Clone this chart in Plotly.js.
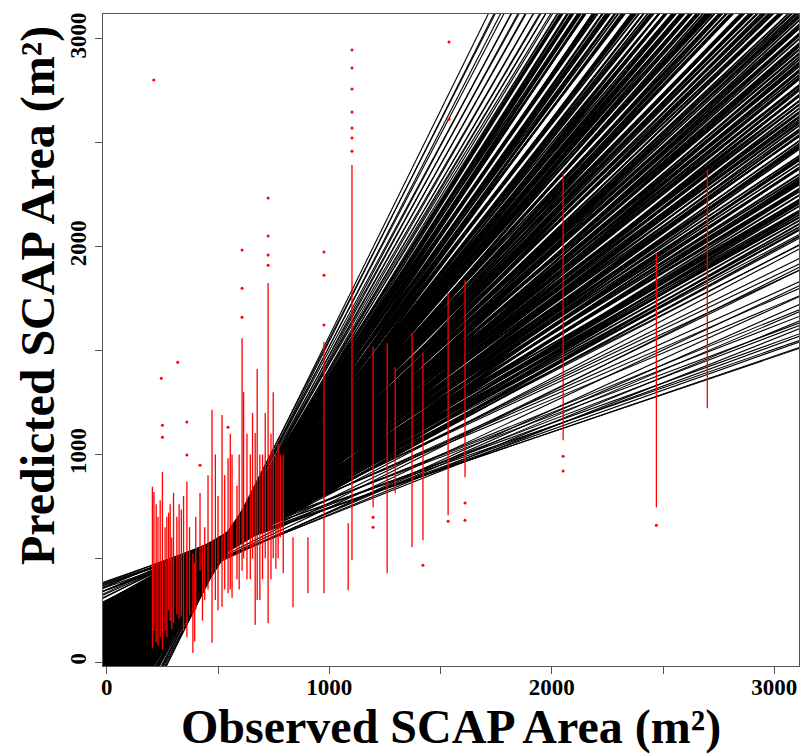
<!DOCTYPE html>
<html>
<head>
<meta charset="utf-8">
<script src="https://cdn.plot.ly/plotly-3.0.1.min.js"></script>
<style>html,body{margin:0;padding:0;background:#fff}#chart{width:805px;height:756px}</style>
</head>
<body>
<div id="chart"></div>
<script>
// Fitted regression lines (slope, intercept)
const regSlope = [
 2.17,2.13,2.10,2.08,2.04,2.01,1.98,1.96,1.93,1.91,1.89,1.86,1.84,1.82,1.80,1.79,1.77,1.75,1.74,1.72,1.71,1.70,
 1.693,1.685,1.676,1.670,1.661,1.652,1.646,1.637,1.630,1.621,1.615,1.606,1.597,1.591,1.583,1.574,1.568,1.559,1.552,1.545,1.536,1.530,1.521,1.513,1.507,1.498,1.490,1.484,1.476,1.467,1.461,1.453,1.445,1.438,1.431,1.422,1.416,1.408,1.400,1.393,1.386,1.377,1.371,1.363,1.356,1.348,1.341,1.333,1.327,1.319,1.312,1.305,
 1.298,1.294,1.289,1.285,1.280,1.276,1.271,1.267,1.262,1.258,1.253,1.249,1.244,1.240,1.235,1.231,1.226,1.222,1.217,1.213,1.208,1.204,1.199,1.195,1.190,1.186,1.181,1.177,1.172,1.168,1.163,1.159,1.154,1.150,1.145,1.141,1.136,1.132,1.127,1.123,1.118,1.114,1.109,1.105,1.100,1.096,1.091,1.087,1.082,1.078,1.073,1.069,1.064,1.060,1.055,1.051,1.046,1.042,1.037,1.033,1.028,1.024,1.019,1.015,1.010,1.006,1.001,0.997,0.992,0.988,0.983,
 0.978,0.974,0.971,0.967,0.963,0.959,0.956,0.952,0.948,0.945,0.941,0.937,0.934,0.930,0.926,0.922,0.919,0.915,0.911,0.908,0.904,0.900,0.896,0.893,0.889,0.885,0.882,0.878,0.874,0.871,0.867,0.863,0.859,0.856,0.852,0.848,0.845,0.841,0.837,0.834,0.830,0.826,0.822,0.819,0.815,0.811,0.808,0.804,0.800,0.796,0.793,0.789,0.785,0.782,0.778,0.774,0.771,0.767,0.763,0.759,0.756,0.752,0.748,0.745,0.741,0.737,0.734,0.730,0.726,0.722,0.719,0.715,0.711,0.708,0.704,0.700,0.696,0.693,0.689,0.685,0.682,0.678,0.674,0.671,0.667,0.663,0.659,0.656,0.652,0.648,0.645,0.641,0.637,0.634,0.630,0.626,0.622,0.619,0.615,0.611,0.608,0.604,0.600,0.596,0.593,0.589,0.585,0.582,
 0.574,0.566,0.559,0.552,0.543,0.537,0.528,0.521,0.513,0.505,0.498,0.490,0.482,0.473,0.466,0.458,0.449,0.441,0.433,0.425,0.416,0.409,0.401,0.392,0.386,0.379,0.372,0.366,0.362
];
const regIntercept = [
 -600,-585,-545,-560,-520,-530,-480,-500,-455,-470,-440,-445,-405,-420,-390,-410,-370,-385,-350,-365,-340,-355,
 -328,-371,-304,-335,-282,-340,-311,-354,-287,-316,-265,-322,-281,-247,-283,-315,-248,-285,-218,-271,-239,-288,-217,-248,-203,-259,-221,-268,-201,-230,-183,-240,-200,-161,-199,-231,-167,-205,-138,-186,-159,-201,-139,-166,-122,-179,-139,-187,-121,-153,-103,-159,
 -143,-89,-161,-111,-90,-142,-66,-114,-143,-88,-62,-121,-94,-139,-63,-101,-50,-117,-70,-58,-115,-32,-73,-95,-35,-78,-15,-94,-52,-36,-95,-24,-56,-7,-66,-27,-68,5,-49,-27,6,-65,1,-27,28,-43,-4,-30,29,-49,13,-4,32,-32,8,50,-7,38,-17,27,57,13,-15,56,28,77,14,53,3,64,45,
 71,20,93,43,19,76,94,38,71,23,98,63,114,55,88,44,107,84,44,124,73,100,138,65,116,96,62,135,93,131,63,127,153,88,122,87,149,114,169,106,143,95,169,134,109,161,187,126,154,106,181,145,179,122,174,202,138,167,121,202,156,192,142,214,173,192,142,211,167,233,181,156,224,173,208,236,159,222,205,180,251,197,237,178,224,253,197,238,179,258,219,271,213,238,204,266,287,227,253,208,282,246,274,227,295,248,274,239,
 254,297,249,291,317,230,300,265,320,240,337,235,331,250,349,262,366,270,349,282,370,348,385,349,379,362,391,376,384
];

// Red prediction columns: observed value, lowest and highest dense predicted value
const stripeObs  = [205,212,222,230,240,250,262,270,278,285,292,300,315,325,335,345,360,372,387,395,400,419,430,440,455,473,488,500,518,530,545,555,563,585,595,608,615,630,645,655,667,676,688,700,712,725,738,748,760,770,780,793,837,904,976,1085,1102,1197,1260,1296,1372,1421,1534,1610,2051,2470,2699];
const stripeLow  = [70,150,95,80,120,60,150,120,250,200,160,190,230,210,220,150,120,230,45,100,250,440,200,300,350,94,300,250,267,350,332,350,310,400,350,440,500,400,400,500,180,300,300,400,500,188,400,500,450,500,600,428,265,332,332,347,491,746,428,813,554,587,708,891,1069,746,1223];
const stripeHigh = [845,820,760,700,780,915,650,700,720,760,600,815,700,760,735,800,870,650,525,480,700,815,560,650,900,1215,1000,800,1190,900,982,1100,1000,850,1000,1560,1300,1100,1000,1200,1103,1411,1000,1000,1200,1825,1100,1300,1000,1050,1000,1000,602,602,1541,669,2393,1517,1536,1420,1584,1488,1777,1839,2354,1969,2369];

// Isolated red predictions
const pointObs  = [211,250,250,245,319,360,360,419,545,608,608,608,725,725,725,725,976,976,976,1102,1102,1102,1102,1102,1102,1102,1197,1197,1421,1534,1538,1538,1610,1610,2051,2051,2470];
const pointPred = [2802,1141,1083,1367,1444,1156,997,948,1131,1984,1800,1661,2234,2051,1960,1911,1974,1863,1623,2460,2523,2571,2648,2759,2860,2947,698,650,467,679,2985,2614,766,684,992,920,660];

const tickVals = [0,500,1000,1500,2000,2500,3000];
const tickText = ['0','','1000','','2000','','3000'];
const xRange = [-17, 3111];
const yRange = [-18, 3120];

// build traces: core of the fan drawn a little heavier than the sparse tails
const coreX = [], coreY = [], tailX = [], tailY = [];
const xa = xRange[0] - 30, xb = xRange[1] + 30;
for (let i = 0; i < regSlope.length; i++) {
  const core = regSlope[i] >= 0.58 && regSlope[i] <= 1.70;
  const X = core ? coreX : tailX, Y = core ? coreY : tailY;
  X.push(xa, xb, null);
  Y.push(regIntercept[i] + regSlope[i] * xa, regIntercept[i] + regSlope[i] * xb, null);
}
const sx = [], sy = [];
for (let i = 0; i < stripeObs.length; i++) {
  sx.push(stripeObs[i], stripeObs[i], null);
  sy.push(stripeLow[i], stripeHigh[i], null);
}
const traces = [
  {type:'scatter', mode:'lines', x:coreX, y:coreY, line:{color:'#000', width:1.8}, hoverinfo:'skip'},
  {type:'scatter', mode:'lines', x:tailX, y:tailY, line:{color:'#000', width:1.1}, hoverinfo:'skip'},
  {type:'scatter', mode:'lines', x:sx, y:sy, line:{color:'#ff0000', width:1.3}, hoverinfo:'skip'},
  {type:'scatter', mode:'markers', x:pointObs, y:pointPred, marker:{color:'#ff0000', size:3}, hoverinfo:'skip'}
];

const serif = 'Liberation Serif, Times New Roman, serif';
const tickFont = {family:serif, size:23, color:'#000', weight:'bold'};
const titleFont = {family:serif, size:48, color:'#000', weight:'bold'};
const axisCommon = {
  tickvals: tickVals, ticktext: tickText, ticks:'outside', ticklen:7, tickwidth:1, tickcolor:'#555',
  showline:true, linecolor:'#555', linewidth:1, mirror:true, showgrid:false, zeroline:false,
  tickfont: tickFont, automargin:false, fixedrange:true
};
const layout = {
  width:805, height:756,
  margin:{l:103, r:6, t:14, b:90},
  paper_bgcolor:'#fff', plot_bgcolor:'#fff',
  showlegend:false,
  xaxis: Object.assign({}, axisCommon, {range:xRange, ticklabelstandoff:-7, title:{text:''}}),
  yaxis: Object.assign({}, axisCommon, {range:yRange, tickangle:-90, title:{text:''}}),
  annotations:[
    {text:'Observed SCAP Area (m²)', font:titleFont, showarrow:false,
     xref:'paper', yref:'paper', x:0.5, y:(666-755)/652, xanchor:'center', yanchor:'bottom', borderpad:0},
    {text:'Predicted SCAP Area (m²)', textangle:-90, font:titleFont, showarrow:false,
     xref:'paper', yref:'paper', x:(38-103)/696, y:(666-296)/652, xanchor:'center', yanchor:'middle'}
  ]
};
Plotly.newPlot('chart', traces, layout, {displayModeBar:false, staticPlot:true});
</script>
</body>
</html>
